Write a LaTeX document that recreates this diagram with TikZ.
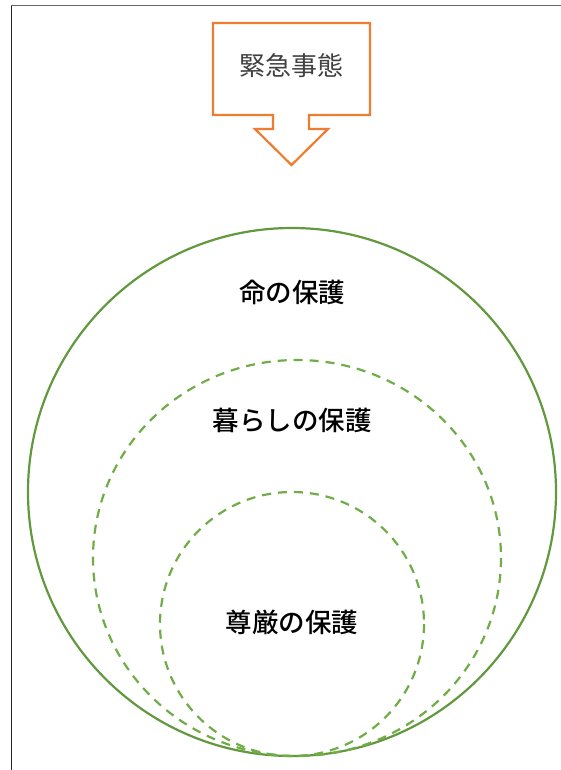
\documentclass[tikz,border=0pt]{standalone}
\usepackage{fontspec}
\newfontfamily\jp{Noto Sans CJK JP}
\newfontfamily\jpb{Noto Sans CJK JP Medium}
\definecolor{orng}{HTML}{ED7D31}
\definecolor{grn}{HTML}{70AD47}
\definecolor{dgrn}{HTML}{62993E}
\begin{document}
\begin{tikzpicture}[x=1pt,y=-1pt,
  solidring/.style={draw=dgrn,line width=2.2pt},
  dashring/.style={draw=grn,line width=2.2pt,dash pattern=on 9pt off 7pt},
  lbl/.style={font=\jpb\fontsize{26.5}{30}\selectfont,text=black},
  callouttxt/.style={font=\jp\fontsize{26}{30}\selectfont,text=black!75}]
\useasboundingbox (0,0) rectangle (561,770);
\fill[white] (0,0) rectangle (561,770);
\draw[black!60,line width=1pt] (11,770) -- (11,6) -- (561,6);
\draw[black!85,line width=1pt] (11,770) -- (11,6);
% callout
\draw[orng,line width=2.2pt,line join=miter]
  (213,23) -- (370,23) -- (370,115) -- (309,115) -- (309,129) -- (328,129)
  -- (291.5,165) -- (255,129) -- (273,129) -- (273,115) -- (213,115) -- cycle;
\node[callouttxt] (em) at (291.5,66) {緊急事態};
% circles
\draw[solidring] (292,492) circle[radius=264];
\draw[dashring] (297,558) ellipse[x radius=204,y radius=198];
\draw[dashring] (292,624) circle[radius=132];
\node[lbl] (life) at (292,292) {命の保護};
\node[lbl] (live) at (292,420) {暮らしの保護};
\node[lbl] (dig) at (292,622) {尊厳の保護};
\end{tikzpicture}
\end{document}
